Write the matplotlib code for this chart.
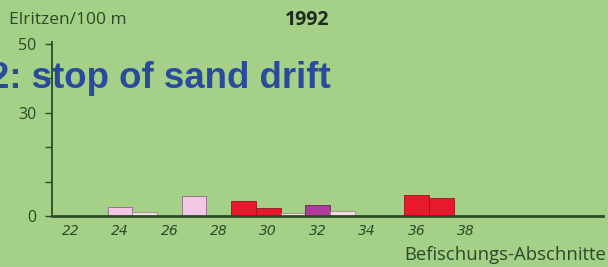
import matplotlib
matplotlib.use("Agg")
import matplotlib.pyplot as plt

# Data
sections = [24, 25, 27, 29, 30, 31, 32, 33, 36, 37]
values = [2.7, 1.2, 5.9, 4.4, 2.3, 0.8, 3.2, 1.5, 6.1, 5.2]
classes = ["pink", "light", "pink", "red", "red", "light", "purple", "light", "red", "red"]
x_tick_values = [22, 24, 26, 28, 30, 32, 34, 36, 38]
y_tick_values = [0, 10, 20, 30, 40, 50]
y_tick_labels = ["0", "", "", "30", "", "50"]

bg = "#a5d087"
dark = "#2b4a27"
class_colors = {"pink": "#f1c6e6", "light": "#f2dde2", "red": "#e8192c", "purple": "#b23a9c"}
class_edges = {"pink": "#8a6a80", "light": "#9a8a8a", "red": "#a01020", "purple": "#6a2060"}

fig = plt.figure(figsize=(6.08, 2.67), dpi=100, facecolor=bg)
ax = fig.add_axes([52/608, 51/267, 551/608, 174/267])
ax.set_facecolor(bg)

ax.bar(sections, values, width=1.0,
       color=[class_colors[c] for c in classes],
       edgecolor=[class_edges[c] for c in classes], linewidth=0.6, zorder=3)

ax.set_xlim(21.25, 43.55)
ax.set_ylim(0, 50.5)
for s in ["top", "right"]:
    ax.spines[s].set_visible(False)
ax.spines["left"].set_color(dark)
ax.spines["left"].set_linewidth(1.3)
ax.spines["bottom"].set_color(dark)
ax.spines["bottom"].set_linewidth(2.0)
ax.spines["left"].set_zorder(5)
ax.spines["bottom"].set_zorder(5)

ax.set_yticks(y_tick_values)
ax.set_yticklabels(y_tick_labels, fontsize=11.5, color=dark, family="Open Sans")
ax.tick_params(axis="y", direction="out", length=5, width=1, color=dark, pad=6)
ax.set_xticks(x_tick_values)
ax.set_xticklabels([str(v) for v in x_tick_values], fontsize=10, color=dark,
                   family="DejaVu Sans Condensed", style="oblique")
ax.tick_params(axis="x", length=0, pad=6)

fig.text(9/608, 1 - 20/267, "Elritzen/100 m", fontsize=12.5, color=dark,
         family="Open Sans", ha="left", va="center")
fig.text(307/608, 1 - 20/267, "1992", fontsize=14, color="#1e2a1a",
         family="Open Sans", weight="bold", ha="center", va="center")
fig.text(331/608, 1 - 88/267, "2: stop of sand drift", fontsize=26.4, color="#2a4a9c",
         family="Liberation Sans", weight="bold", ha="right", va="baseline", zorder=1)
fig.text(606/608, 1 - 255/267, "Befischungs-Abschnitte", fontsize=13.3, color=dark,
         family="Open Sans", ha="right", va="center")

fig.savefig("out.png", dpi=100, facecolor=bg)
